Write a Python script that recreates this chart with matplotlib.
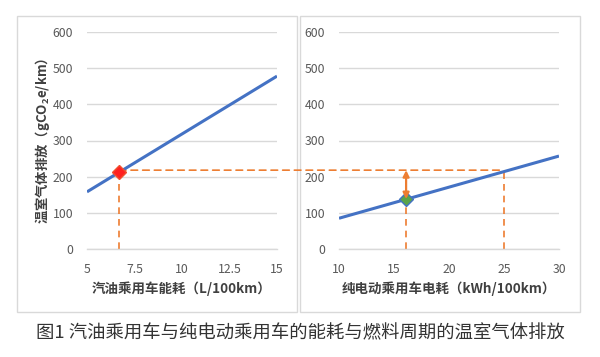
import matplotlib
matplotlib.use("Agg")
import matplotlib.pyplot as plt
from matplotlib.patches import Rectangle, ConnectionPatch, FancyArrowPatch

plt.rcParams['font.family'] = ['Noto Sans CJK SC', 'DejaVu Sans']
plt.rcParams['mathtext.fontset'] = 'custom'
plt.rcParams['mathtext.rm'] = 'Noto Sans CJK SC'
plt.rcParams['mathtext.bf'] = 'Noto Sans CJK SC:bold'

# Data
gas_x = [5, 15]
gas_y = [158, 478]
ev_x = [10, 30]
ev_y = [85, 257]
gas_point = (6.7, 213)
ev_point = (16.1, 138)
ref_level = 218
ev_equiv_x = 25
yticks = [0, 100, 200, 300, 400, 500, 600]
gas_xticks = [5, 7.5, 10, 12.5, 15]
gas_xticklabels = ['5', '7.5', '10', '12.5', '15']
ev_xticks = [10, 15, 20, 25, 30]

ylabel = '温室气体排放（gCO$_\\mathbf{2}$e/km）'
gas_xlabel = '汽油乘用车能耗（L/100km）'
ev_xlabel = '纯电动乘用车电耗（kWh/100km）'
caption = '图1 汽油乘用车与纯电动乘用车的能耗与燃料周期的温室气体排放'

BLUE = '#4472C4'
ORANGE = '#ED7D31'
GRID = '#D9D9D9'
TICK = '#595959'

fig = plt.figure(figsize=(6, 3.57), dpi=100)
fig.patch.set_facecolor('white')

# panel frames
for x0 in (17 / 600, 300 / 600):
    fig.patches.append(Rectangle((x0, 1 - 312 / 357), 280 / 600, 296 / 357,
                                 transform=fig.transFigure, facecolor='white',
                                 edgecolor=GRID, linewidth=1.0, zorder=-5))

ax1 = fig.add_axes([87 / 600, 1 - 249 / 357, 190 / 600, 217 / 357])
ax2 = fig.add_axes([339 / 600, 1 - 249 / 357, 220 / 600, 217 / 357])

for ax in (ax1, ax2):
    ax.set_zorder(2)
    ax.set_facecolor('none')
    ax.set_ylim(0, 600)
    ax.set_yticks(yticks)
    ax.grid(axis='y', color=GRID, linewidth=1.0, zorder=0)
    ax.set_axisbelow(True)
    for s in ('top', 'right', 'left'):
        ax.spines[s].set_visible(False)
    ax.spines['bottom'].set_color(GRID)
    ax.spines['bottom'].set_linewidth(1.0)
    ax.tick_params(axis='both', length=0, labelsize=8.8, colors=TICK)
    ax.tick_params(axis='x', pad=10)
    ax.tick_params(axis='y', pad=10)

ax1.set_xlim(5, 15)
ax1.set_xticks(gas_xticks)
ax1.set_xticklabels(gas_xticklabels)
ax2.set_xlim(10, 30)
ax2.set_xticks(ev_xticks)

dash = dict(color=ORANGE, linestyle=(0, (4, 3)), linewidth=1.2)

# left panel
ax1.plot(gas_x, gas_y, color=BLUE, linewidth=2.2, zorder=3, solid_capstyle='butt')
ax1.plot([gas_point[0], gas_point[0]], [0, ref_level], **dash, zorder=2)
ax1.plot(*gas_point, marker='D', markersize=7, color='#FF2020',
         markeredgecolor='#F05030', zorder=5)

# right panel
ax2.plot(ev_x, ev_y, color=BLUE, linewidth=2.2, zorder=3, solid_capstyle='butt')
ax2.plot([ev_point[0], ev_point[0]], [0, ev_point[1]], **dash, zorder=2)
ax2.plot([ev_equiv_x, ev_equiv_x], [0, ref_level], **dash, zorder=2)
ax2.plot(*ev_point, marker='D', markersize=7, color='#5BA34A',
         markeredgecolor=BLUE, zorder=5)
arr = FancyArrowPatch((ev_point[0], ev_point[1]), (ev_point[0], ref_level),
                      arrowstyle='<|-|>', mutation_scale=9, color=ORANGE,
                      linewidth=1.6, zorder=6, shrinkA=0, shrinkB=0)
ax2.add_patch(arr)

# dashed connector across panels
con = ConnectionPatch(xyA=(gas_point[0], ref_level), coordsA=ax1.transData,
                      xyB=(ev_equiv_x, ref_level), coordsB=ax2.transData,
                      **dash, zorder=1)
fig.add_artist(con)

# labels
ax1.set_xlabel(gas_xlabel, fontsize=9.7, fontweight='bold', color='#404040', labelpad=4)
ax2.set_xlabel(ev_xlabel, fontsize=9.7, fontweight='bold', color='#404040', labelpad=4)
ax1.set_ylabel(ylabel, fontsize=9.6, fontweight='bold', color='#404040', labelpad=0)

fig.text(0.5, 1 - 333 / 357, caption, ha='center', va='center', fontsize=13.2,
         color='#333333')

fig.savefig('out.png', dpi=100, facecolor='white')
